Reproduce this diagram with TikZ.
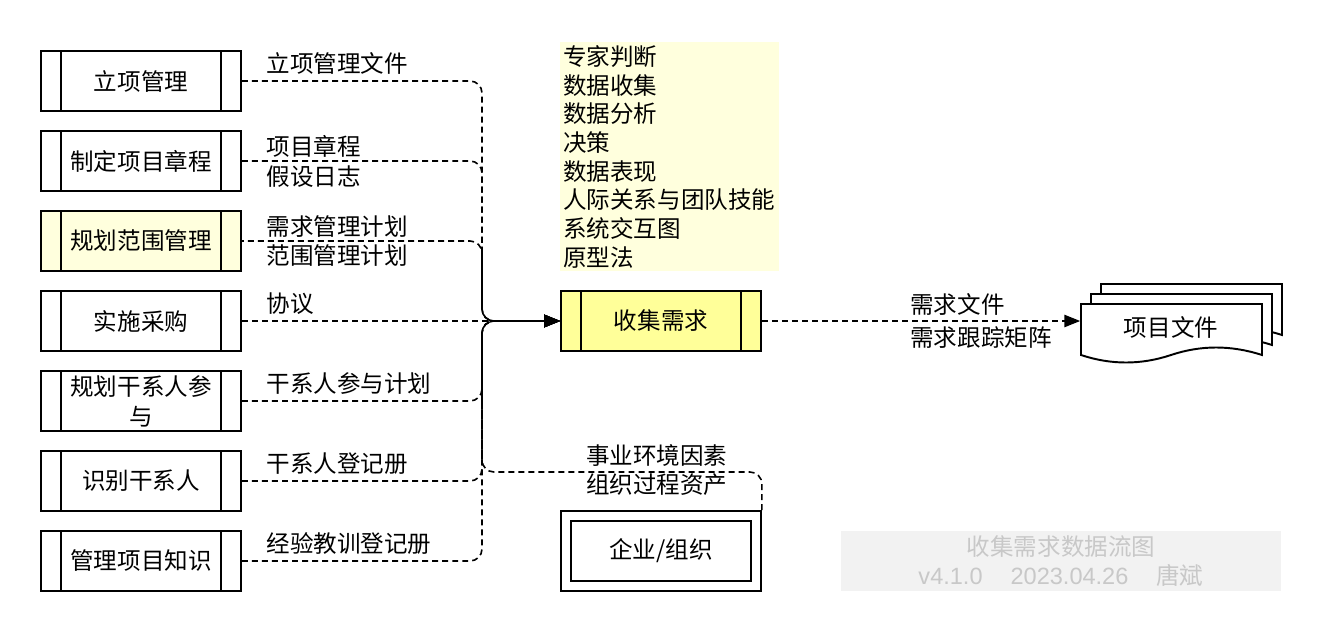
\documentclass[tikz,border=0pt]{standalone}
\usepackage{fontspec}
\setmainfont{Noto Sans CJK SC}
\newfontfamily\wmlatin{Liberation Sans}
\usetikzlibrary{arrows.meta}
\definecolor{paleyellow}{HTML}{FFFFDD}
\definecolor{procyellow}{HTML}{FFFF99}
\definecolor{wmfill}{HTML}{F2F2F2}
\definecolor{wmtext}{HTML}{C8C8C8}
\begin{document}
\begin{tikzpicture}[x=0.02cm, y=-0.02cm, font=\fontsize{13.4pt}{17pt}\selectfont, >={Triangle[length=9pt, width=7pt]},
    procbox/.style={rectangle, draw, line width=1.1pt, minimum width=4cm, minimum height=1.2cm, align=center, inner sep=0pt,
        path picture={\draw[line width=1.1pt] ([xshift=0.4cm]path picture bounding box.north west) -- ([xshift=0.4cm]path picture bounding box.south west)
            ([xshift=-0.4cm]path picture bounding box.north east) -- ([xshift=-0.4cm]path picture bounding box.south east);}},
    flow/.style={->, line width=0.9pt, dash pattern=on 3.4pt off 2.3pt, rounded corners=0.24cm},
    flowtext/.style={anchor=west, align=left, inner sep=0pt, xshift=0.48cm},
    docshape/.style={fill=white, draw, line width=1.1pt}]
        \useasboundingbox (0,0) rectangle (1322,632);
        \node[procbox] (p1) at (141,81) {立项管理};
        \node[procbox] (p2) at (141,161) {制定项目章程};
        \node[procbox, fill=paleyellow] (p3) at (141,241) {规划范围管理};
        \node[procbox] (p4) at (141,321) {实施采购};
        \node[procbox] (p5) at (141,401) {规划干系人参\\与};
        \node[procbox] (p6) at (141,481) {识别干系人};
        \node[procbox] (p7) at (141,561) {管理项目知识};
        \node[procbox, fill=procyellow] (req) at (661,321) {收集需求};
        \node[anchor=north west, fill=paleyellow, inner xsep=0.06cm, inner ysep=0pt, minimum width=4.38cm, minimum height=4.58cm,
            text width=4.26cm, align=left, font=\fontsize{13.4pt}{16.3pt}\selectfont] (tools) at (560,42)
            {专家判断\\数据收集\\数据分析\\决策\\数据表现\\人际关系与团队技能\\系统交互图\\原型法};
        \node[rectangle, draw, line width=1.1pt, minimum width=4cm, minimum height=1.6cm, inner sep=0pt,
            path picture={\draw[line width=1.1pt] ([shift={(0.2cm,-0.2cm)}]path picture bounding box.north west) rectangle ([shift={(-0.2cm,0.2cm)}]path picture bounding box.south east);}]
            (org) at (661,551) {企业/组织};
        \coordinate (j) at (482,321);
        \coordinate (c) at (482,472);
        \draw[flow] (p1.east) node[flowtext, yshift=0.36cm] {立项管理文件} -| (j) -- (req.west);
        \draw[flow] (p2.east) node[flowtext] {项目章程\\假设日志} -| (j) -- (req.west);
        \draw[flow, dash phase=2.35pt] (p3.east) node[flowtext] {需求管理计划\\范围管理计划} -| (j) -- (req.west);
        \draw[flow] (p4.east) node[flowtext, yshift=0.34cm] {协议} -- (req.west);
        \draw[flow] (p5.east) node[flowtext, yshift=0.34cm] {干系人参与计划} -| (j) -- (req.west);
        \draw[flow] (p6.east) node[flowtext, yshift=0.34cm] {干系人登记册} -| (j) -- (req.west);
        \draw[flow] (p7.east) node[flowtext, yshift=0.34cm] {经验教训登记册} -| (j) -- (req.west);
        \draw[flow] (org.north east) |- node[pos=0.688, align=center, inner sep=0pt, yshift=0.04cm] {事业环境因素\\组织过程资产} (c) -- (j) -- (req.west);
        \foreach \s in {20,10,0}
            \filldraw[docshape, shift={(\s,-\s)}] (1081,304) -- (1262,304) -- (1262,355) .. controls (1231,345) and (1201,345) .. (1171,355)
                .. controls (1141,365) and (1111,365) .. (1081,355) -- cycle;
        \node[minimum width=3.62cm, inner sep=0pt] (doc) at (1171,327) {项目文件};
        \draw[flow] (req.east) -- node[pos=0.464, anchor=west, align=left, inner sep=0pt, font=\fontsize{13.4pt}{18.5pt}\selectfont] {需求文件\\需求跟踪矩阵} (req.east -| doc.west);
        \node[fill=wmfill, text=wmtext, minimum width=8.8cm, minimum height=1.2cm, inner sep=0pt, align=center, font=\fontsize{13.4pt}{16.4pt}\selectfont]
            (wm) at (1061,561) {收集需求数据流图\\{\wmlatin v4.1.0}\hspace{0.56cm}{\wmlatin 2023.04.26}\hspace{0.56cm}唐斌};
\end{tikzpicture}
\end{document}
